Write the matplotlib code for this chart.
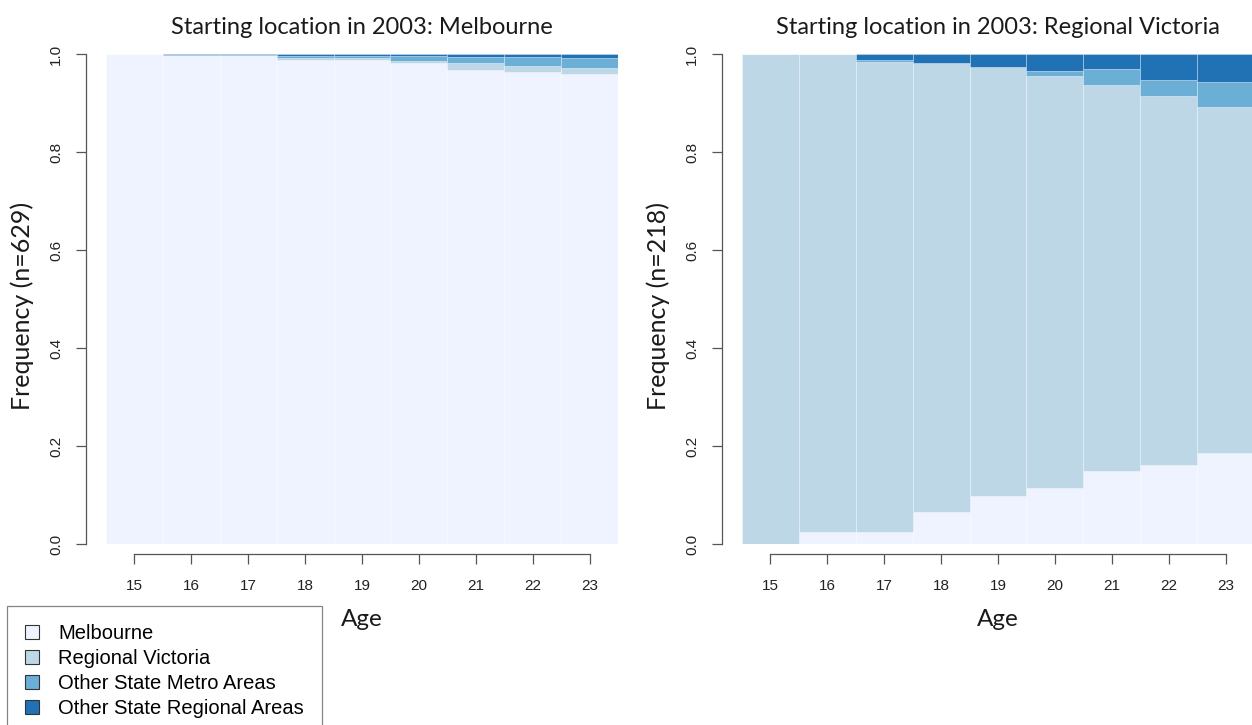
import matplotlib
matplotlib.use("Agg")
import matplotlib.pyplot as plt
from matplotlib.patches import Patch

W, H = 1252, 725

AGES = [15, 16, 17, 18, 19, 20, 21, 22, 23]
CATEGORIES = ["Melbourne", "Regional Victoria", "Other State Metro Areas", "Other State Regional Areas"]
COLORS = ["#EFF3FF", "#BDD7E7", "#6BAED6", "#2171B5"]

# starting location Melbourne (n=629)
melb_melb = [1.000, 0.997, 0.997, 0.988, 0.988, 0.982, 0.967, 0.963, 0.960]
melb_regvic = [0.000, 0.000, 0.000, 0.004, 0.004, 0.004, 0.015, 0.013, 0.011]
melb_metro = [0.000, 0.001, 0.001, 0.004, 0.004, 0.009, 0.011, 0.017, 0.021]
melb_osreg = [0.000, 0.002, 0.002, 0.004, 0.004, 0.005, 0.007, 0.007, 0.008]

# starting location Regional Victoria (n=218)
rv_melb = [0.000, 0.024, 0.024, 0.066, 0.098, 0.115, 0.148, 0.162, 0.185]
rv_regvic = [1.000, 0.976, 0.960, 0.915, 0.875, 0.840, 0.789, 0.752, 0.706]
rv_metro = [0.000, 0.000, 0.003, 0.001, 0.001, 0.010, 0.032, 0.033, 0.051]
rv_osreg = [0.000, 0.000, 0.012, 0.018, 0.026, 0.035, 0.031, 0.053, 0.058]

PANELS = [
    ("Starting location in 2003: Melbourne", "Frequency (n=629)",
     [melb_melb, melb_regvic, melb_metro, melb_osreg]),
    ("Starting location in 2003: Regional Victoria", "Frequency (n=218)",
     [rv_melb, rv_regvic, rv_metro, rv_osreg]),
]

TITLE_FONT = "Lato"
BODY_FONT = "Liberation Sans"
AXIS_COL = "#555555"
PX = 72 / 100  # points per pixel at dpi 100

fig = plt.figure(figsize=(W / 100, H / 100), dpi=100, facecolor="white")

lefts = [106, 742]
for i, (title, ylab, stacks) in enumerate(PANELS):
    x0 = lefts[i]
    ax = fig.add_axes([x0 / W, 1 - 544 / H, 512 / W, 490 / H])

    bottom = [0.0] * len(AGES)
    for vals, col in zip(stacks, COLORS):
        ax.bar(AGES, vals, width=1.0, bottom=bottom, color=col,
               edgecolor=(1, 1, 1, 0.35), linewidth=0.6)
        bottom = [b + v for b, v in zip(bottom, vals)]

    ax.set_xlim(14.5, 23.5)
    ax.set_ylim(0, 1)
    ax.set_xticks(AGES)
    ax.set_yticks([0, 0.2, 0.4, 0.6, 0.8, 1.0])
    ax.set_yticklabels(["0.0", "0.2", "0.4", "0.6", "0.8", "1.0"])

    for s in ["top", "right"]:
        ax.spines[s].set_visible(False)
    ax.spines["left"].set_position(("outward", 20 * PX))
    ax.spines["bottom"].set_position(("outward", 10 * PX))
    ax.spines["left"].set_bounds(0, 1)
    ax.spines["bottom"].set_bounds(15, 23)
    for s in ["left", "bottom"]:
        ax.spines[s].set_color(AXIS_COL)
        ax.spines[s].set_linewidth(0.9)

    ax.tick_params(axis="both", length=10 * PX, width=0.9, color=AXIS_COL,
                   labelsize=11, labelcolor="#222222")
    ax.tick_params(axis="x", pad=15 * PX)
    ax.tick_params(axis="y", pad=13 * PX)
    for lab in ax.get_yticklabels():
        lab.set_rotation(90)
        lab.set_va("center")
        lab.set_family(BODY_FONT)
    for lab in ax.get_xticklabels():
        lab.set_family(BODY_FONT)

    cx = x0 + 256
    fig.text(cx / W, 1 - 27 / H, title, ha="center", va="center",
             fontsize=17, family=TITLE_FONT, color="#1a1a1a")
    fig.text(cx / W, 1 - 620 / H, "Age", ha="center", va="center",
             fontsize=17.5, family=TITLE_FONT, color="#1a1a1a")
    fig.text((x0 - 84) / W, 1 - 306 / H, ylab, ha="center", va="center",
             rotation=90, fontsize=18, family=TITLE_FONT, color="#1a1a1a")

handles = [Patch(facecolor=c, edgecolor="#333333", linewidth=0.8) for c in COLORS]
leg = fig.legend(handles, CATEGORIES, loc="upper left",
                 bbox_to_anchor=(7 / W, 1 - 606 / H), bbox_transform=fig.transFigure,
                 borderaxespad=0, frameon=True, fancybox=False,
                 prop={"family": BODY_FONT, "size": 14.5},
                 handlelength=0.7, handleheight=0.7, handletextpad=0.95,
                 labelspacing=0.3, borderpad=0.9)
leg.get_frame().set_edgecolor("#666666")
leg.get_frame().set_linewidth(0.9)

fig.savefig("out.png", dpi=100, facecolor="white")
